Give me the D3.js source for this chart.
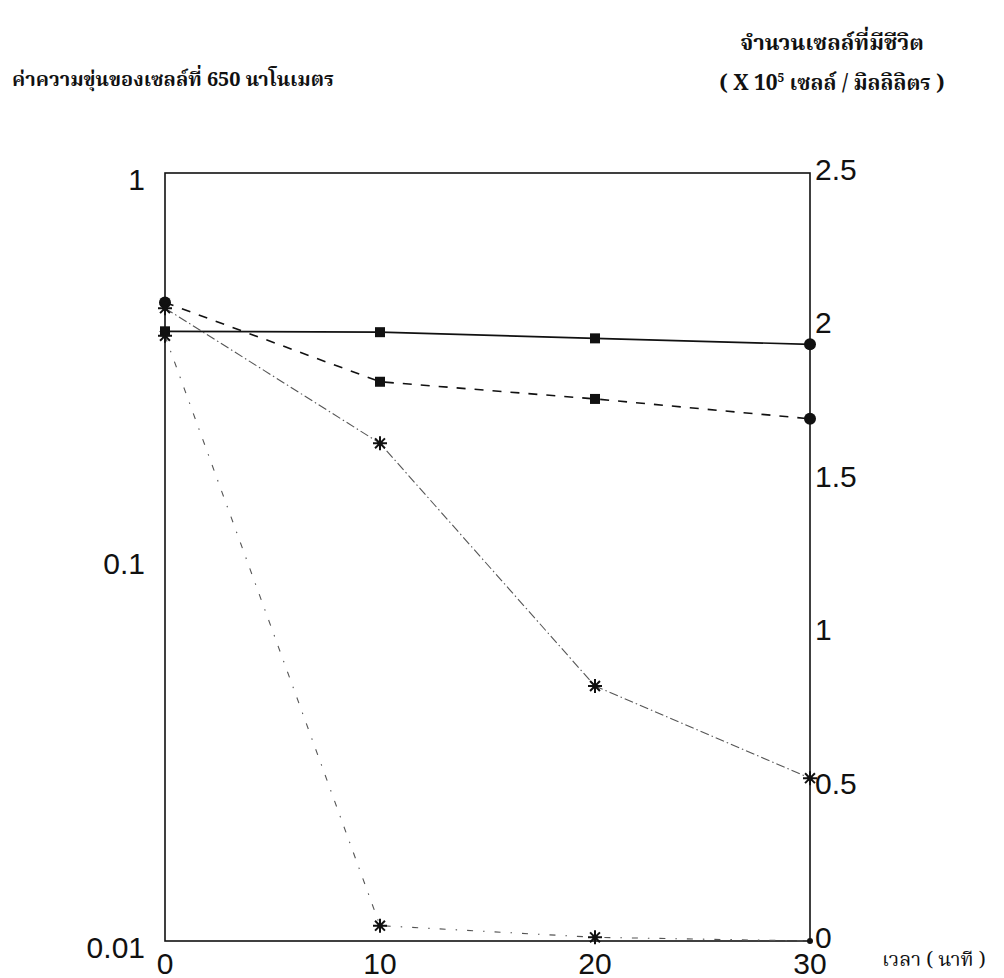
<!DOCTYPE html>
<html>
<head>
<meta charset="utf-8">
<script src="https://cdn.jsdelivr.net/npm/d3@7"></script>
<style>
	body { margin: 0; background: #fff; }
	.tick-label { font-family: "Liberation Sans", Arial, sans-serif; font-size: 30px; fill: #111; }
	.thai { font-family: "Noto Serif Thai", "Noto Sans Thai", "Norasi", "Garuda", "Loma", "DejaVu Serif", serif; font-weight: bold; fill: #111; }
</style>
</head>
<body>
<div id="chart"></div>
<script>
// time (minutes)
const times = [0, 10, 20, 30];
// optical density at 650 nm (left, log axis)
const odSolid = [0.387, 0.385, 0.371, 0.358];
const odDashed = [0.46, 0.286, 0.258, 0.229];
// viable cells x10^5 / ml (right axis)
const viableDotted = [2.06, 1.62, 0.83, 0.53];
const viableSteep = [1.97, 0.05, 0.012, 0];
// marker per point
const solidMarks = ["square", "square", "square", "circle"];
const dashedMarks = ["circle", "square", "square", "circle"];
const dottedMarks = ["star", "star", "star", "star"];
const steepMarks = ["star", "star", "star", "dot"];

const xTickValues = [0, 10, 20, 30];
const leftTickValues = [1, 0.1, 0.01];
const leftTickLabels = ["1", "0.1", "0.01"];
const rightTickValues = [0, 0.5, 1, 1.5, 2, 2.5];
const rightTickLabels = ["0", "0.5", "1", "1.5", "2", "2.5"];

const leftTitle = "ค่าความขุ่นของเซลล์ที่ 650 นาโนเมตร";
const rightTitle1 = "จำนวนเซลล์ที่มีชีวิต";
const xTitle = "เวลา ( นาที )";

const fullWidth = 1004, fullHeight = 978;
const margin = { top: 173, right: 194, bottom: 37, left: 165 };
const width = fullWidth - margin.left - margin.right;
const height = fullHeight - margin.top - margin.bottom;

const svg = d3.select("#chart")
	.append("svg")
	.attr("width", fullWidth)
	.attr("height", fullHeight);

const g = svg.append("g")
	.attr("transform", "translate(" + margin.left + "," + margin.top + ")");

const x = d3.scaleLinear().domain([0, 30]).range([0, width]);
const yLeft = d3.scaleLog().domain([0.01, 1]).range([height, 0]);
const yRight = d3.scaleLinear().domain([0, 2.5]).range([height, 0]);

// frame
g.append("rect")
	.attr("x", 0).attr("y", 0)
	.attr("width", width).attr("height", height)
	.attr("fill", "none")
	.attr("stroke", "#111")
	.attr("stroke-width", 1.6);

// tick labels (no tick marks in the original)
g.selectAll(".xl")
	.data(xTickValues)
	.enter().append("text")
	.classed("tick-label", true)
	.attr("x", d => x(d))
	.attr("y", height + 22)
	.attr("text-anchor", "middle")
	.attr("dominant-baseline", "central")
	.text(d => d);

g.selectAll(".ll")
	.data(leftTickValues)
	.enter().append("text")
	.classed("tick-label", true)
	.attr("x", -20)
	.attr("y", d => yLeft(d) + 6)
	.attr("text-anchor", "end")
	.attr("dominant-baseline", "central")
	.text((d, i) => leftTickLabels[i]);

g.selectAll(".rl")
	.data(rightTickValues)
	.enter().append("text")
	.classed("tick-label", true)
	.attr("x", width + 5)
	.attr("y", d => yRight(d) - 4)
	.attr("text-anchor", "start")
	.attr("dominant-baseline", "central")
	.text((d, i) => rightTickLabels[i]);

// titles
svg.append("text")
	.classed("thai", true)
	.attr("x", 12).attr("y", 86)
	.attr("font-size", 20)
	.text(leftTitle);

svg.append("text")
	.classed("thai", true)
	.attr("x", 832).attr("y", 50)
	.attr("text-anchor", "middle")
	.attr("font-size", 22)
	.text(rightTitle1);

const rt2 = svg.append("text")
	.classed("thai", true)
	.attr("x", 832).attr("y", 90)
	.attr("text-anchor", "middle")
	.attr("font-size", 21);
rt2.append("tspan").text("( X 10");
rt2.append("tspan").attr("dy", -8).attr("font-size", 12).text("5");
rt2.append("tspan").attr("dy", 8).text(" เซลล์ / มิลลิลิตร )");

svg.append("text")
	.classed("thai", true)
	.attr("x", 882).attr("y", 966)
	.attr("font-size", 20)
	.style("font-weight", "normal")
	.text(xTitle);

// series
const series = [
	{ values: odSolid, scale: yLeft, marks: solidMarks, dash: null, width: 1.7, color: "#111" },
	{ values: odDashed, scale: yLeft, marks: dashedMarks, dash: "9,9", width: 1.6, color: "#111" },
	{ values: viableDotted, scale: yRight, marks: dottedMarks, dash: "9,3,1.5,3", width: 1.1, color: "#555" },
	{ values: viableSteep, scale: yRight, marks: steepMarks, dash: "6,10,1.5,10", width: 1.1, color: "#555" },
];

const line = (s) => d3.line()
	.x((d, i) => x(times[i]))
	.y(d => s.scale(d));

for (const s of series) {
	g.append("path")
		.datum(s.values)
		.attr("fill", "none")
		.attr("stroke", s.color)
		.attr("stroke-width", s.width)
		.attr("stroke-dasharray", s.dash)
		.attr("d", line(s));
}

function drawMark(sel, kind, cx, cy) {
	if (kind === "square") {
		sel.append("rect")
			.attr("x", cx - 5).attr("y", cy - 5)
			.attr("width", 10).attr("height", 10)
			.attr("fill", "#111");
	} else if (kind === "circle") {
		sel.append("circle")
			.attr("cx", cx).attr("cy", cy).attr("r", 6)
			.attr("fill", "#111");
	} else if (kind === "dot") {
		sel.append("circle")
			.attr("cx", cx).attr("cy", cy).attr("r", 3)
			.attr("fill", "#111");
	} else {
		const r = 7;
		const p = d3.path();
		for (let k = 0; k < 4; k++) {
			const a = k * Math.PI / 4;
			p.moveTo(cx - r * Math.cos(a), cy - r * Math.sin(a));
			p.lineTo(cx + r * Math.cos(a), cy + r * Math.sin(a));
		}
		sel.append("path")
			.attr("d", p.toString())
			.attr("stroke", "#111")
			.attr("stroke-width", 2);
		sel.append("circle")
			.attr("cx", cx).attr("cy", cy).attr("r", 2.5)
			.attr("fill", "#111");
	}
}

for (const s of series) {
	const mg = g.append("g");
	s.values.forEach((v, i) => drawMark(mg, s.marks[i], x(times[i]), s.scale(v)));
}
</script>
</body>
</html>
